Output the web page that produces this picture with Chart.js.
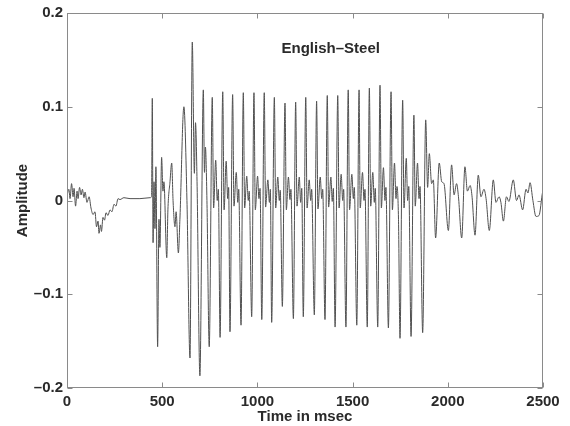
<!DOCTYPE html>
<html><head><meta charset="utf-8">
<script src="https://cdn.jsdelivr.net/npm/chart.js@4/dist/chart.umd.min.js"></script>
<style>html,body{margin:0;padding:0;background:#fff}canvas{display:block}</style>
</head><body><canvas id="c" width="570" height="426"></canvas>
<script>
// Time axis (ms) and amplitude values
const timeMs = [
  0,10,16,24,32,37,45,53,58,66,74,81,89,95,105,116,126,137,147,155,163,168,176,181,189,197,205,215,226,236,247,257,268,278,299,331,383,436,444,
  448,452,457,462,467,476,483,488,497,504,509,524,530,541,550,557,567,573,585,593,614,630,646,658,669,675,683,698,716,722,727,735,747,
  763,770,781,789,795,804,
  818,825,836,844,849,856,
  870,877,889,897,902,914,
  926,933,944,952,957,970,
  982,989,1001,1008,1014,1023,
  1036,1043,1055,1063,1068,1075,
  1089,1096,1107,1115,1120,1131,
  1145,1152,1163,1171,1176,1189,
  1201,1208,1220,1227,1233,1241,
  1254,1261,1272,1280,1285,1299,
  1311,1318,1330,1338,1343,1355,
  1367,1374,1386,1393,1399,1408,
  1422,1429,1440,1448,1453,1465,
  1477,1484,1496,1504,1509,1522,
  1534,1540,1552,1560,1565,1577,
  1588,1595,1606,1614,1619,1632,
  1644,1651,1662,1670,1675,1688,
  1702,1709,1720,1728,1733,1741,1749,
  1763,1770,1782,1789,1795,1807,
  1822,1829,1841,1849,1854,1868,
  1884,
  1894,1903,1915,1924,1936,1955,1968,1980,2003,2020,2033,2046,2056,2073,2090,2103,2117,2127,2143,2160,2174,2190,2201,2218,
  2239,2253,2269,2279,2292,2308,2321,2344,2361,2374,2393,2411,2421,2432,2447,2463,2479,2498,2500
];
const amplitude = [
  0.005,0.012,0.002,0.018,0.004,0.013,-0.006,0.010,0.002,0.014,0.006,0.012,0.003,0.009,-0.002,0.004,-0.008,-0.015,-0.012,-0.028,-0.022,-0.035,-0.026,-0.033,-0.018,-0.021,-0.013,-0.016,-0.010,-0.012,-0.004,-0.006,0.002,0.001,0.003,0.002,0.002,0.003,0.004,
  0.109,-0.045,0.020,-0.030,0.036,-0.156,-0.020,-0.050,0.046,0.010,0.020,-0.061,-0.010,0.020,0.040,0.000,-0.028,-0.012,-0.056,-0.020,0.100,0.000,-0.168,0.169,0.029,0.083,0.020,-0.187,0.118,0.030,0.057,0.000,-0.156,
  0.110,-0.008,0.043,0.000,0.012,-0.146,
  0.116,-0.010,0.042,0.002,0.014,-0.140,
  0.113,-0.006,0.030,-0.002,0.012,-0.133,
  0.115,-0.008,0.026,0.000,0.010,-0.124,
  0.115,-0.010,0.026,0.002,0.013,-0.127,
  0.115,-0.007,0.022,-0.002,0.012,-0.130,
  0.110,-0.008,0.025,0.000,0.011,-0.113,
  0.104,-0.010,0.025,0.001,0.012,-0.126,
  0.105,-0.006,0.025,-0.002,0.013,-0.124,
  0.110,-0.008,0.022,0.000,0.012,-0.122,
  0.106,-0.009,0.025,0.002,0.012,-0.127,
  0.112,-0.007,0.025,-0.001,0.013,-0.135,
  0.112,-0.008,0.028,0.000,0.012,-0.135,
  0.118,-0.010,0.028,0.002,0.014,-0.133,
  0.118,-0.008,0.030,0.000,0.012,-0.135,
  0.120,-0.006,0.030,-0.002,0.013,-0.135,
  0.123,-0.008,0.035,0.000,0.014,-0.136,
  0.116,-0.010,0.040,0.002,0.015,-0.020,-0.147,
  0.107,-0.008,0.045,0.000,0.015,-0.145,
  0.091,-0.006,0.040,0.002,0.015,-0.141,
  0.086,
  0.014,0.050,0.018,0.022,-0.040,0.040,0.020,0.018,-0.032,0.038,0.006,0.018,0.004,-0.040,0.036,0.010,0.016,0.005,-0.037,0.027,0.004,0.012,0.002,-0.032,
  0.022,-0.002,0.004,-0.002,-0.022,0.004,-0.001,0.022,0.000,0.006,-0.010,0.012,0.008,0.019,0.000,-0.017,-0.016,0.009,0.010
];
const xTickValues = [0,500,1000,1500,2000,2500];
const xTickLabels = ['0','500','1000','1500','2000','2500'];
const yTickValues = [-0.2,-0.1,0,0.1,0.2];
const yTickLabels = ['\u20130.2','\u20130.1','0','0.1','0.2'];
const chartTitle = 'English\u2013Steel';
const xAxisTitle = 'Time in msec';
const yAxisTitle = 'Amplitude';

const FONT = '"Liberation Sans", Arial, Helvetica, sans-serif';
const TEXT = '#2a2a2a';
const FSIZE = 15;

const framePlugin = {
  id: 'frame',
  afterDraw(chart) {
    const {ctx, chartArea: a, scales: {x, y}} = chart;
    ctx.save();
    ctx.strokeStyle = '#8a8a8a';
    ctx.lineWidth = 1;
    const L = Math.round(a.left) + 0.5, R = Math.round(a.right) - 0.5;
    const T = Math.round(a.top) + 0.5, B = Math.round(a.bottom) - 0.5;
    ctx.strokeRect(L, T, R - L, B - T);
    ctx.beginPath();
    xTickValues.forEach(v => {
      const p = Math.round(x.getPixelForValue(v)) + 0.5;
      ctx.moveTo(p, B); ctx.lineTo(p, B - 5);
      ctx.moveTo(p, T); ctx.lineTo(p, T + 5);
    });
    yTickValues.forEach(v => {
      const p = Math.round(y.getPixelForValue(v)) + 0.5;
      ctx.moveTo(L, p); ctx.lineTo(L + 5, p);
      ctx.moveTo(R, p); ctx.lineTo(R - 5, p);
    });
    ctx.stroke();
    ctx.fillStyle = TEXT;
    ctx.font = 'bold ' + FSIZE + 'px ' + FONT;
    ctx.textAlign = 'center';
    ctx.textBaseline = 'middle';
    ctx.fillText(chartTitle, x.getPixelForValue(1385), y.getPixelForValue(0.1616));
    ctx.restore();
  }
};

new Chart(document.getElementById('c'), {
  type: 'line',
  data: {
    datasets: [{
      data: timeMs.map((t, i) => ({x: t, y: amplitude[i]})),
      borderColor: '#505050',
      borderWidth: 1,
      pointRadius: 0,
      cubicInterpolationMode: 'monotone',
      fill: false
    }]
  },
  options: {
    responsive: false,
    animation: false,
    events: [],
    layout: {padding: {left: 0, right: 27, top: 13, bottom: 0}},
    plugins: {legend: {display: false}, tooltip: {enabled: false}, title: {display: false}},
    scales: {
      x: {
        type: 'linear', min: 0, max: 2500,
        afterBuildTicks: s => { s.ticks = xTickValues.map(v => ({value: v})); },
        afterFit: s => { s.height = 38; },
        ticks: {
          callback: (v, i) => xTickLabels[i],
          color: TEXT, font: {family: FONT, size: FSIZE, weight: 'bold'},
          padding: 5, maxRotation: 0, autoSkip: false
        },
        grid: {display: false, drawTicks: false},
        border: {display: false},
        title: {display: true, text: xAxisTitle, color: TEXT,
          font: {family: FONT, size: FSIZE, weight: 'bold'}, padding: {top: 0, bottom: 0}}
      },
      y: {
        type: 'linear', min: -0.2, max: 0.2,
        afterBuildTicks: s => { s.ticks = yTickValues.map(v => ({value: v})); },
        afterFit: s => { s.width = 67; },
        ticks: {
          callback: (v, i) => yTickLabels[i],
          color: TEXT, font: {family: FONT, size: FSIZE, weight: 'bold'},
          padding: 4, autoSkip: false
        },
        grid: {display: false, drawTicks: false},
        border: {display: false},
        title: {display: true, text: yAxisTitle, color: TEXT,
          font: {family: FONT, size: FSIZE, weight: 'bold'}, padding: {top: 13.5, bottom: 0}}
      }
    }
  },
  plugins: [framePlugin]
});
</script>
</body></html>
